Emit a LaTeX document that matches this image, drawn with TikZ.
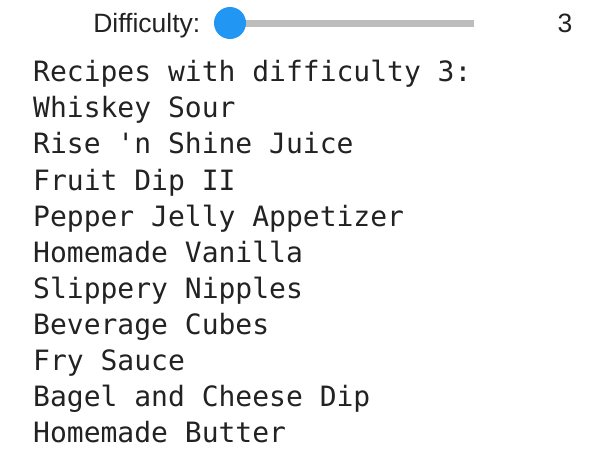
\documentclass[tikz,border=0pt]{standalone}
\usepackage{fontspec}
\setmainfont{Liberation Sans}
\setmonofont{DejaVu Sans Mono}
\definecolor{thumbblue}{RGB}{33,150,243}
\definecolor{trackgray}{RGB}{189,189,189}
\definecolor{inkgray}{RGB}{34,34,34}

\begin{document}
\begin{tikzpicture}[x=1pt, y=-1pt,
	every node/.style={inner sep=0, text=inkgray},
	uitext/.style={font=\fontsize{26.5}{30}\selectfont},
	listtext/.style={anchor=base west, font=\ttfamily\fontsize{28}{33}\selectfont}]
	\useasboundingbox (0,0) rectangle (612,458);

	\node[uitext, anchor=base east] (label) at (200.5,32.3) {Difficulty:};
	\node[uitext, anchor=base] (value) at (565,32.3) {3};
	\coordinate (trackend) at (473.7,23);
	\node[circle, minimum size=32pt] (thumb) at (230,23) {};
	\draw[line width=7pt, trackgray] (thumb.center) -- (trackend);
	\fill[thumbblue] (thumb.center) circle (16);

	\node[listtext] (heading) at (33,81.7) {Recipes with difficulty 3:};
	\node[listtext] (recipe1) at (33,117.8) {Whiskey Sour};
	\node[listtext] (recipe2) at (33,153.9) {Rise 'n Shine Juice};
	\node[listtext] (recipe3) at (33,190.0) {Fruit Dip II};
	\node[listtext] (recipe4) at (33,226.1) {Pepper Jelly Appetizer};
	\node[listtext] (recipe5) at (33,262.2) {Homemade Vanilla};
	\node[listtext] (recipe6) at (33,298.3) {Slippery Nipples};
	\node[listtext] (recipe7) at (33,334.4) {Beverage Cubes};
	\node[listtext] (recipe8) at (33,370.5) {Fry Sauce};
	\node[listtext] (recipe9) at (33,406.6) {Bagel and Cheese Dip};
	\node[listtext] (recipe10) at (33,442.7) {Homemade Butter};
\end{tikzpicture}
\end{document}
